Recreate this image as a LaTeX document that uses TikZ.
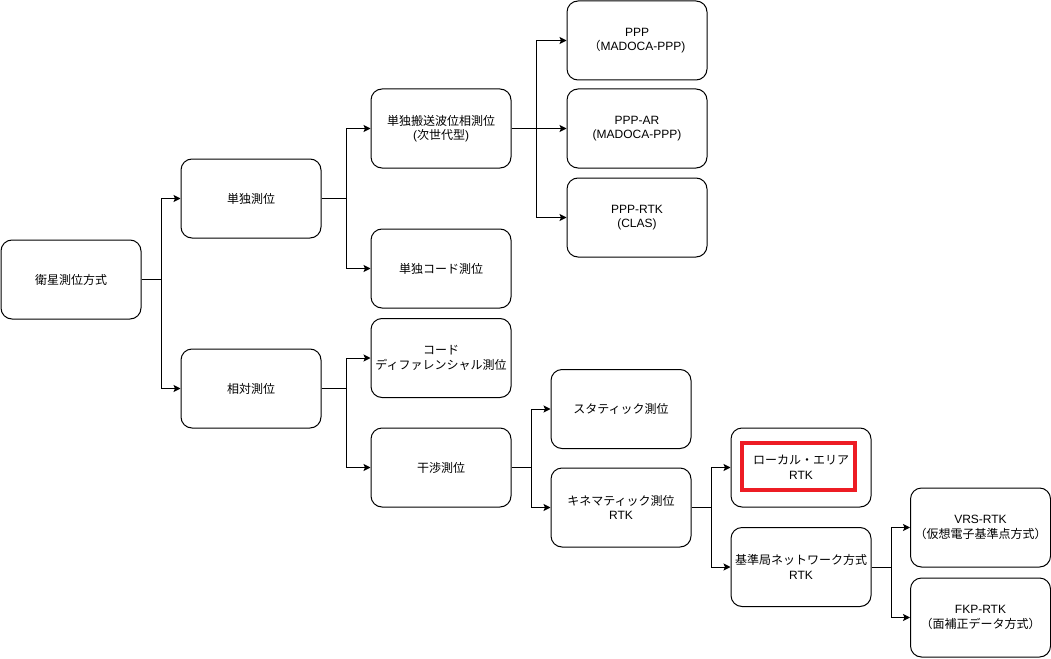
\documentclass[tikz,border=0pt]{standalone}
\usepackage{fontspec}
\setmainfont{Liberation Sans}
\newfontfamily\jpfont{Noto Sans CJK JP}
\newcommand{\J}[1]{{\jpfont #1}}
\usetikzlibrary{arrows.meta}
\definecolor{redbox}{RGB}{237,28,36}
\tikzset{
  box/.style={draw=black, line width=1pt, rounded corners=11pt, minimum width=140pt,
    minimum height=79pt, inner xsep=1pt, inner ysep=2pt, align=center,
    font=\fontsize{12}{14.5}\selectfont},
  arr/.style={draw=black, line width=1pt, -{Stealth[length=7pt,width=7pt,inset=1.5pt]}},
  hilite/.style={draw=redbox, line width=4pt, minimum width=113pt, minimum height=47pt, inner sep=0pt}
}
\begin{document}
\begin{tikzpicture}[x=1pt,y=-1pt]
\useasboundingbox (0,0) rectangle (1051,658);
\node[box] (root) at (71,279.5) {\J{衛星測位方式}};
\node[box] (single) at (251,198.5) {\J{単独測位}};
\node[box] (rel) at (251,388.5) {\J{相対測位}};
\node[box] (carrier) at (441,128.5) {\J{単独搬送波位相測位}\\(\J{次世代型})};
\node[box] (code) at (441,268.5) {\J{単独コード測位}};
\node[box] (dgps) at (441,358) {\J{コード}\\\J{ディファレンシャル測位}};
\node[box] (interf) at (441,467.5) {\J{干渉測位}};
\node[box] (ppp) at (637,40.5) {PPP\\\J{（}MADOCA-PPP)};
\node[box] (pppar) at (637,128.5) {PPP-AR\\(MADOCA-PPP)};
\node[box] (ppprtk) at (637,217.5) {PPP-RTK\\(CLAS)};
\node[box] (static) at (621,409) {\J{スタティック測位}};
\node[box] (kine) at (621,507.5) {\J{キネマティック測位}\\RTK};
\node[box] (local) at (801,467.5) {\J{ローカル・エリア}\\RTK};
\node[box] (net) at (801,567) {\J{基準局ネットワーク方式}\\RTK};
\node[box] (vrs) at (980.5,527.5) {VRS-RTK\\\J{（仮想電子基準点方式）}};
\node[box] (fkp) at (980.5,617.5) {FKP-RTK\\\J{（面補正データ方式）}};
\node[hilite] (hl) at ([xshift=-2.5pt,yshift=1pt]local.center) {};

\draw[arr] (root.east) -- ++(20,0) |- (single.west);
\draw[arr] (root.east) -- ++(20,0) |- (rel.west);
\draw[arr] (single.east) -- ++(25,0) |- (carrier.west);
\draw[arr] (single.east) -- ++(25,0) |- (code.west);
\draw[arr] (rel.east) -- ++(25,0) |- (dgps.west);
\draw[arr] (rel.east) -- ++(25,0) |- (interf.west);
\draw[arr] (carrier.east) -- ++(25,0) |- (ppp.west);
\draw[arr] (carrier.east) -- ++(25,0) |- (pppar.west);
\draw[arr] (carrier.east) -- ++(25,0) |- (ppprtk.west);
\draw[arr] (interf.east) -- ++(20,0) |- (static.west);
\draw[arr] (interf.east) -- ++(20,0) |- (kine.west);
\draw[arr] (kine.east) -- ++(20,0) |- (local.west);
\draw[arr] (kine.east) -- ++(20,0) |- (net.west);
\draw[arr] (net.east) -- ++(20,0) |- (vrs.west);
\draw[arr] (net.east) -- ++(20,0) |- (fkp.west);
\end{tikzpicture}
\end{document}
